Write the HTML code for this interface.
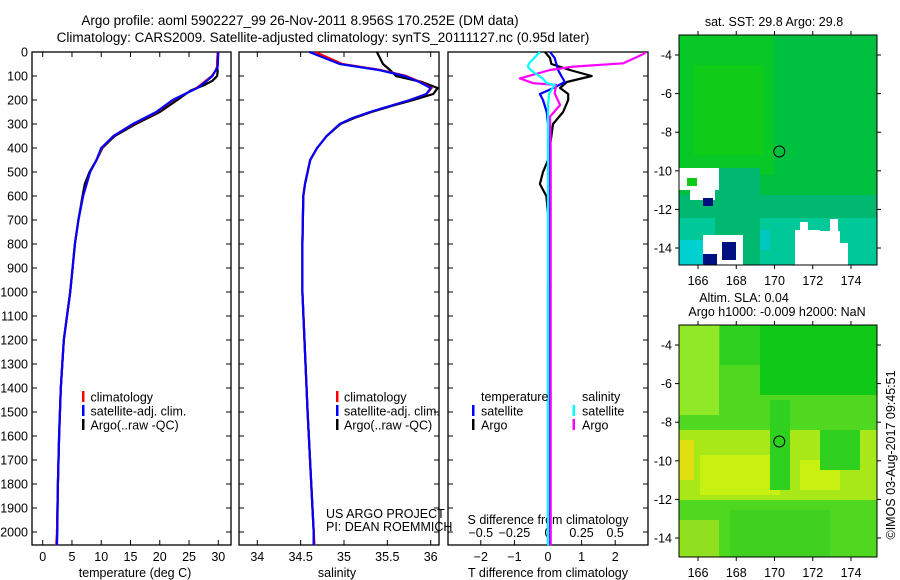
<!DOCTYPE html>
<html><head><meta charset="utf-8">
<style>
html,body{margin:0;padding:0;background:#fff;}
svg{display:block;font-family:"Liberation Sans",sans-serif;}
text{font-size:12.5px;fill:#000;}
</style></head>
<body>
<svg id="fig" width="900" height="580" viewBox="0 0 900 580" xmlns="http://www.w3.org/2000/svg">
<text x="300" y="25" text-anchor="middle" style="font-size:13.5px">Argo profile: aoml 5902227_99 26-Nov-2011 8.956S 170.252E (DM data)</text>
<text x="323" y="42" text-anchor="middle" style="font-size:13.5px">Climatology: CARS2009. Satellite-adjusted climatology: synTS_20111127.nc (0.95d later)</text>
<g id="plots"></g>
</svg>
<script>
// ---- data ----
const tDepth=[0,60,75,100,125,150,175,200,250,300,350,400,450,500,600,700,800,900,1000,1200,1400,1600,1800,2000,2055];
const tClim=[29.9,29.8,29.6,28.9,27.6,26.3,24.3,22.3,19.5,15.5,12.1,10.1,9.2,8.1,6.9,6.1,5.5,5.1,4.7,3.6,3.1,2.8,2.6,2.45,2.3];
const tSat=[30.0,29.9,29.6,29.0,27.8,26.4,24.3,22.2,19.4,15.4,12.1,10.0,9.2,8.1,6.9,6.1,5.5,5.1,4.7,3.6,3.1,2.8,2.6,2.5,2.45];
const argoDepth=[0,60,80,100,120,140,160,200,250,300,350,400,450,500,550,600,700,800,900,1000,1200,1400,1600,1800,2000];
const tArgo=[29.9,29.8,29.9,29.8,29.0,27.4,25.3,23.0,20.0,15.9,12.3,10.2,9.2,8.0,7.2,6.8,6.1,5.5,5.1,4.7,3.6,3.1,2.8,2.6,2.45];
const sDepth=[0,50,75,100,125,150,175,200,225,250,275,300,350,400,450,500,550,600,800,1000,1500,2000,2055];
const sClim=[34.67,34.98,35.42,35.72,35.88,36.01,35.95,35.76,35.53,35.3,35.1,34.95,34.8,34.69,34.61,34.58,34.55,34.53,34.52,34.52,34.58,34.65,34.66];
const sSat=[34.6,34.95,35.4,35.7,35.87,36.0,35.95,35.76,35.53,35.3,35.1,34.95,34.8,34.69,34.61,34.58,34.55,34.53,34.52,34.52,34.58,34.65,34.65];
const sArgo=[35.38,35.45,35.53,35.6,35.9,36.08,36.03,35.8,35.55,35.32,35.12,34.96,34.8,34.69,34.61,34.58,34.55,34.53,34.52,34.52,34.58,34.65,34.65];
const dDepth=[0,25,50,75,100,125,150,175,200,250,300,350,400,450,500,550,600,700,1000,1500,2055];
const dTSat=[0.06,0.2,0.25,0.3,0.4,0.5,0.16,-0.24,-0.15,-0.04,0,0.04,0.05,0.05,0.05,0.05,0.05,0.05,0.05,0.05,0.05];
const dTArgo=[-0.09,0.06,0.1,0.65,1.3,0.56,0.36,0.6,0.6,0.45,0.15,0.1,0.05,0.0,-0.15,-0.24,-0.05,0.02,0.0,0.0,0.0];
const dSDepth=[0,6,47,61,75,110,130,137,172,221,269,400,1000,2055];
const dSSat=[-0.06,-0.07,-0.14,-0.15,-0.13,-0.04,-0.01,0.05,0.01,0.0,0.0,0.0,0.0,0.0];
const dSArgo=[0.72,0.72,0.56,0.19,0.015,-0.21,-0.11,0.06,0.05,0.09,0.015,0.02,0.02,0.02];
const depthTicks=[0,100,200,300,400,500,600,700,800,900,1000,1100,1200,1300,1400,1500,1600,1700,1800,1900,2000];
const tTicks=[0,5,10,15,20,25,30];
const sTicks=[34,34.5,35,35.5,36];
const dTTicks=[-2,-1,0,1,2];
const dSTicks=[-0.5,-0.25,0,0.25,0.5];
const lonTicks=[166,168,170,172,174];
const latTicks=[-4,-6,-8,-10,-12,-14];

const NS='http://www.w3.org/2000/svg';
const G=document.getElementById('plots');
function el(tag,attrs,parent){const e=document.createElementNS(NS,tag);for(const k in attrs)e.setAttribute(k,attrs[k]);(parent||G).appendChild(e);return e;}
const Y=d=>52+d*0.24;
const TOP=52,BOT=545;
function panel(x0,x1,name){
  const r=el('rect',{x:x0,y:TOP,width:x1-x0,height:BOT-TOP,fill:'none',stroke:'#000','stroke-width':1.3});
  
  
  depthTicks.forEach(d=>{
    const t1=el('line',{x1:x0,x2:x0+5,y1:Y(d),y2:Y(d),stroke:'#000'});
    
    
    const t2=el('line',{x1:x1-5,x2:x1,y1:Y(d),y2:Y(d),stroke:'#000'});
    
    
  });
}
function xTicks(ticks,fx,labelY,name,topTicks){
  ticks.forEach(v=>{
    const x=fx(v);
    if(topTicks){
      const a=el('line',{x1:x,x2:x,y1:TOP,y2:TOP+5,stroke:'#000'});
      
      
    }
    const b=el('line',{x1:x,x2:x,y1:BOT-5,y2:BOT,stroke:'#000'});
    
    
    const t=el('text',{x:x,y:labelY,'text-anchor':'middle'});
    t.textContent=String(v).replace('-','\u2212');
    
    
  });
}
function line(depths,vals,fx,color,name,w){
  const pts=depths.map((d,i)=>fx(vals[i]).toFixed(1)+','+Y(d).toFixed(1)).join(' ');
  const p=el('polyline',{points:pts,fill:'none',stroke:color,'stroke-width':w||2.2,'stroke-linejoin':'round'});
  
  
}
function txt(x,y,s,name,anchor,size){
  const t=el('text',{x:x,y:y,'text-anchor':anchor||'start'});
  if(size)t.setAttribute('style','font-size:'+size+'px');
  t.textContent=s;
  
  
  return t;
}
function legBar(x,y,c){
  const r=el('rect',{x:x,y:y-6,width:2.5,height:11,fill:c});
  
  
}

// Panel 1 temperature
const fT=v=>42.7+v*5.853;
panel(32,231,'temperature-panel');
depthTicks.forEach(d=>txt(28,Y(d)+4.5,String(d),'depth-tick-label','end'));
xTicks(tTicks,fT,561,'temperature-tick-label',true);
txt(135,577,'temperature (deg C)','temperature-axis-title','middle');
line(argoDepth,tArgo,fT,'#000','temperature-argo-line');
line(tDepth,tClim,fT,'#ff0000','temperature-climatology-line');
line(tDepth,tSat,fT,'#0000ff','temperature-satellite-line');
legBar(82,397,'#f00');txt(90.5,401.5,'climatology','legend-climatology');
legBar(82,411,'#00f');txt(90.5,415.5,'satellite-adj. clim.','legend-satellite');
legBar(82,425,'#000');txt(90.5,429.5,'Argo(..raw -QC)','legend-argo');

// Panel 2 salinity
const fS=v=>257.3+(v-34)*86.7;
panel(239,439,'salinity-panel');
xTicks(sTicks,fS,561,'salinity-tick-label',true);
txt(337,577,'salinity','salinity-axis-title','middle');
line(sDepth,sArgo,fS,'#000','salinity-argo-line');
line(sDepth,sClim,fS,'#ff0000','salinity-climatology-line');
line(sDepth,sSat,fS,'#0000ff','salinity-satellite-line');
legBar(336,397,'#f00');txt(344,401.5,'climatology','legend-climatology');
legBar(336,411,'#00f');txt(344,415.5,'satellite-adj. clim.','legend-satellite');
legBar(336,425,'#000');txt(344,429.5,'Argo(..raw -QC)','legend-argo');
txt(326,518,'US ARGO PROJECT','project-label');
txt(326,531,'PI: DEAN ROEMMICH','pi-label');

// Panel 3 differences
const fDT=v=>548+v*33.6;
const fDS=v=>548+v*134.4;
panel(448,648,'difference-panel');
xTicks(dTTicks,fDT,561,'t-difference-tick-label',false);
dSTicks.forEach(v=>{
  txt(fDS(v),537,String(v).replace(/^-/,'\u2212'),'s-difference-tick-label','middle');
});
txt(548,524,'S difference from climatology','s-difference-axis-title','middle');
txt(548,577,'T difference from climatology','t-difference-axis-title','middle');
line(dDepth,dTArgo,fDT,'#000','t-diff-argo-line');
line(dDepth,dTSat,fDT,'#0000ff','t-diff-satellite-line');
line(dSDepth,dSArgo,fDS,'#ff00ff','s-diff-argo-line');
line(dSDepth,dSSat,fDS,'#00ffff','s-diff-satellite-line');
txt(481,401,'temperature','legend-temperature-header');
legBar(472,411,'#00f');txt(481,415.5,'satellite','legend-t-satellite');
legBar(472,425,'#000');txt(481,429.5,'Argo','legend-t-argo');
txt(582,401,'salinity','legend-salinity-header');
legBar(572.5,411,'#0ff');txt(582,415.5,'satellite','legend-s-satellite');
legBar(572.5,425,'#f0f');txt(582,429.5,'Argo','legend-s-argo');

// Maps
function map(top,bot,lat4y,lat14y,name,draw){
  const x0=679,x1=877;
  const fx=lon=>698+(lon-166)*19.125;
  const fy=lat=>lat4y+(-4-lat)*(lat14y-lat4y)/10;
  const g=el('g',{});
  
  
  draw(g,fx,fy,x0,x1,top,bot);
  el('rect',{x:x0,y:top,width:x1-x0,height:bot-top,fill:'none',stroke:'#000','stroke-width':1},g);
  lonTicks.forEach(l=>{
    el('line',{x1:fx(l),x2:fx(l),y1:top,y2:top-4,stroke:'#000'},g);
    el('line',{x1:fx(l),x2:fx(l),y1:bot,y2:bot+4,stroke:'#000'},g);
    txt(fx(l),bot+20,String(l),'longitude-tick-label','middle',12.5);
  });
  latTicks.forEach(l=>{
    el('line',{x1:x0,x2:x0-4,y1:fy(l),y2:fy(l),stroke:'#000'},g);
    el('line',{x1:x1,x2:x1+4,y1:fy(l),y2:fy(l),stroke:'#000'},g);
    txt(672,fy(l)+4.5,String(l),'latitude-tick-label','end',12.5);
  });
  const c=el('circle',{cx:fx(170.25),cy:fy(-9),r:5.5,fill:'none',stroke:'#000','stroke-width':1},g);
  
  
}
function rect(g,x,y,w,h,f){el('rect',{x:x,y:y,width:w,height:h,fill:f},g);}
map(35,265,55,248,'sst-map',(g,fx,fy,x0,x1,top,bot)=>{
  rect(g,x0,top,x1-x0,bot-top,'#00c040');
  rect(g,x0,top,95,140,'#08c828');
  rect(g,x0+15,top+30,70,90,'#10cc18');
  rect(g,x0,195,x1-x0,bot-195,'#00b870');
  rect(g,x0,218,x1-x0,bot-218,'#00c898');
  rect(g,x0,240,50,25,'#00d0d0');
  rect(g,720,230,50,20,'#00c8c0');
  rect(g,715,168,45,bot-168,'#00b870');
  rect(g,x0,168,40,22,'#ffffff');rect(g,690,175,25,25,'#fff');
  rect(g,x0+8,178,10,8,'#10c818');
  rect(g,703,198,10,8,'#001080');
  rect(g,703,235,40,30,'#fff');rect(g,722,242,14,18,'#001080');rect(g,703,254,14,11,'#001080');
  rect(g,795,230,25,35,'#fff');rect(g,800,222,8,10,'#fff');rect(g,830,219,8,46,'#fff');rect(g,818,243,30,22,'#fff');rect(g,796,231,44,12,'#fff');
});
map(325,557,345,538,'sla-map',(g,fx,fy,x0,x1,top,bot)=>{
  rect(g,x0,top,x1-x0,bot-top,'#50d820');
  rect(g,760,top,117,70,'#10c818');
  rect(g,720,top,40,40,'#30d020');
  rect(g,x0,top,40,90,'#90e828');
  rect(g,x0,430,x1-x0,70,'#a8e818');
  rect(g,700,455,80,40,'#c8f010');
  rect(g,800,460,40,30,'#c8f010');
  rect(g,x0,440,15,40,'#e0e010');
  rect(g,770,400,20,90,'#30d020');
  rect(g,820,430,40,40,'#30d020');
  rect(g,730,510,100,bot-510,'#40d020');
  rect(g,x0,520,40,bot-520,'#90e020');
});
txt(774,26,'sat. SST: 29.8  Argo: 29.8','sst-map-title','middle',12.5);
txt(744,302,'Altim. SLA: 0.04','sla-map-title','middle',12.5);
txt(777,316,'Argo h1000: -0.009  h2000: NaN','sla-map-subtitle','middle',12.5);
const cr=txt(0,0,'\u00a9IMOS 03-Aug-2017 09:45:51','credit-timestamp','middle',12.5);
cr.setAttribute('transform','translate(895,455) rotate(-90)');
</script>
</body></html>
